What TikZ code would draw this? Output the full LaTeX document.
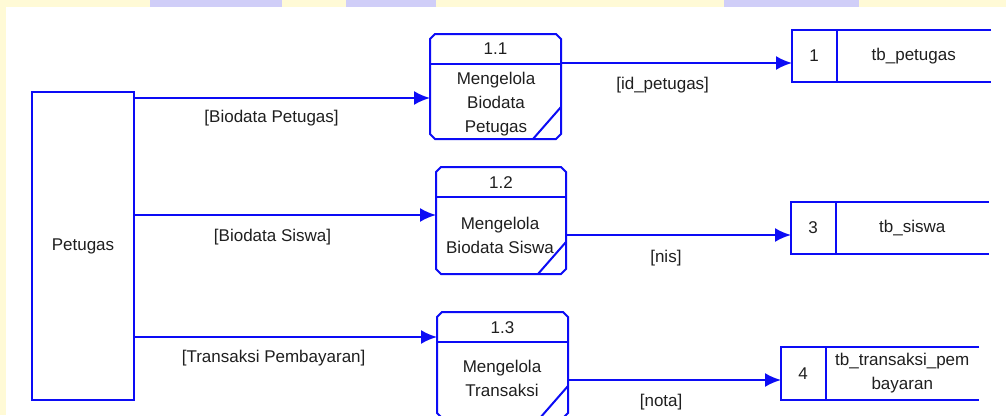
\documentclass[tikz,border=0pt]{standalone}
\usepackage{fontspec}
\setmainfont{Liberation Sans}
\usetikzlibrary{positioning,arrows.meta,calc}
\definecolor{dfdblue}{RGB}{12,12,245}
\definecolor{bgyellow}{RGB}{255,250,214}
\definecolor{bglav}{RGB}{208,206,248}
\tikzset{dfdline/.style={draw=dfdblue,line width=2pt},
        flow/.style={dfdline,-{Latex[length=16pt,width=14pt]}},
        lbl/.style={font=\fontsize{17}{24}\selectfont,text=black!88,inner sep=0pt,align=center},
        procbox/.style={inner sep=0pt,outer sep=0pt},
        storebox/.style={inner sep=0pt,outer sep=0pt}}

\begin{document}
\begin{tikzpicture}[x=1pt,y=-1pt]
  \useasboundingbox (0,0) rectangle (1006,415);
  % slide background
  \fill[bgyellow] (0,0) rectangle (1006,415);
  \fill[bglav] (150,0) rectangle (282,7);
  \fill[bglav] (346,0) rectangle (436,7);
  \fill[bglav] (724,0) rectangle (859,7);
  \fill[white] (6,7) rectangle (1006,415);

  % external entity
  \node[dfdline,lbl,minimum width=102pt,minimum height=308pt] (petugas) at (83,246) {Petugas};

  % processes
  \node[procbox,minimum width=131pt,minimum height=105pt] (p1) at (495.5,86.5) {};
  \node[procbox,minimum width=130pt,minimum height=107pt] (p2) at (501,220.5) {};
  \node[procbox,minimum width=131pt,minimum height=106pt] (p3) at (502.5,365) {};
  \foreach \p in {p1,p2,p3}{
    \draw[dfdline] ([xshift=5pt]\p.north west) -- ([xshift=-5pt]\p.north east)
      -- ([yshift=-5pt]\p.north east) -- ([yshift=5pt]\p.south east)
      -- ([xshift=-5pt]\p.south east) -- ([xshift=5pt]\p.south west)
      -- ([yshift=5pt]\p.south west) -- ([yshift=-5pt]\p.north west) -- cycle;
    \draw[dfdline] ([yshift=-30pt]\p.north west) -- ([yshift=-30pt]\p.north east);
    \draw[dfdline] ([xshift=-28pt]\p.south east) -- ([yshift=32pt]\p.south east);
  }
  \node[lbl] (p1num) at ([yshift=-15pt]p1.north) {1.1};
  \node[lbl] (p2num) at ([yshift=-16pt]p2.north) {1.2};
  \node[lbl] (p3num) at ([yshift=-16pt]p3.north) {1.3};
  \node[lbl] (p1txt) at (496,104) {Mengelola\\Biodata\\Petugas};
  \node[lbl] (p2txt) at (500,235.5) {Mengelola\\Biodata Siswa};
  \node[lbl] (p3txt) at (502,378) {Mengelola\\Transaksi};

  % data stores
  \node[storebox,minimum width=199pt,minimum height=52pt] (s1) at (891.5,56) {};
  \node[storebox,minimum width=198pt,minimum height=52pt] (s3) at (890,228) {};
  \node[storebox,minimum width=198pt,minimum height=53pt] (s4) at (880,373.5) {};
  \foreach \s/\n/\t in {s1/1/tb\_petugas,s3/3/tb\_siswa,s4/4/{tb\_transaksi\_pem\\bayaran}}{
    \draw[dfdline] (\s.north east) -- (\s.north west) -- (\s.south west) -- (\s.south east);
    \draw[dfdline] ([xshift=44.5pt]\s.north west) -- ([xshift=44.5pt]\s.south west);
    \node[lbl] (\s-num) at ([xshift=22pt]\s.west) {\n};
    \node[lbl] (\s-name) at ($([xshift=44.5pt]\s.west)!0.5!(\s.east)$) {\t};
  }

  % flows
  \draw[flow] ([yshift=-11.5pt]p1.west -| petugas.east) --
    node[lbl,pos=0.463,yshift=-20pt] {[Biodata Petugas]} ([yshift=-11.5pt]p1.west);
  \draw[flow] ([yshift=5.5pt]p2.west -| petugas.east) --
    node[lbl,pos=0.457,yshift=-22pt] {[Biodata Siswa]} ([yshift=5.5pt]p2.west);
  \draw[flow] ([yshift=28pt]p3.west -| petugas.east) --
    node[lbl,pos=0.459,yshift=-21pt] {[Transaksi Pembayaran]} ([yshift=28pt]p3.west);
  \draw[flow] ([yshift=23.5pt]p1.east) --
    node[lbl,pos=0.44,yshift=-22pt] {[id\_petugas]} ([yshift=23.5pt]p1.east -| s1.west);
  \draw[flow] ([yshift=-14.5pt]p2.east) --
    node[lbl,pos=0.444,yshift=-23pt] {[nis]} ([yshift=-14.5pt]p2.east -| s3.west);
  \draw[flow] ([yshift=-15pt]p3.east) --
    node[lbl,pos=0.437,yshift=-22pt] {[nota]} ([yshift=-15pt]p3.east -| s4.west);
\end{tikzpicture}
\end{document}
